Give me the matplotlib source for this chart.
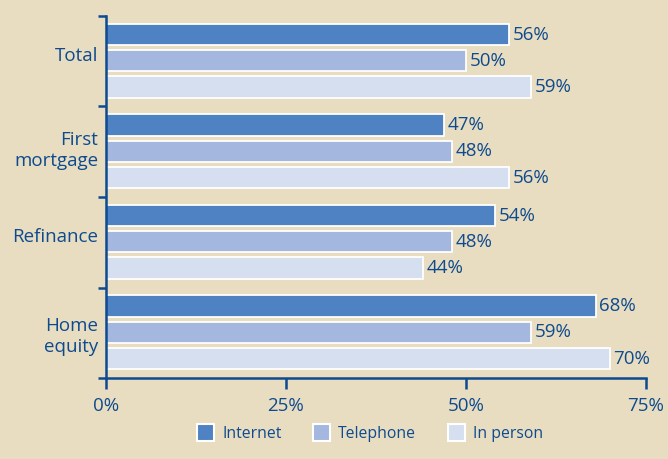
import matplotlib
matplotlib.use("Agg")
import matplotlib.pyplot as plt
from matplotlib.patches import Patch
import matplotlib.transforms as mtransforms
import numpy as np

categories = ["Total", "First\nmortgage", "Refinance", "Home\nequity"]
series_names = ["Internet", "Telephone", "In person"]
internet = [56, 47, 54, 68]
telephone = [50, 48, 48, 59]
in_person = [59, 56, 44, 70]
xticks = [0, 25, 50, 75]
xtick_labels = ["0%", "25%", "50%", "75%"]

bg = "#e8ddc0"
navy = "#0d4a8f"
colors = ["#4f82c3", "#a3b7df", "#d5dff0"]

plt.rcParams['font.family'] = ['Open Sans', 'DejaVu Sans']

fig = plt.figure(figsize=(6.68, 4.59), dpi=100, facecolor=bg)
ax = fig.add_axes([106/668, 1-378/459, 540/668, 362/459])
ax.set_facecolor(bg)

pitch = 0.29
h = 0.235
offsets = [-pitch, 0, pitch]
series = [internet, telephone, in_person]
centers = np.arange(len(categories)) + 0.5
for s, vals in enumerate(series):
    y = centers + offsets[s] - 0.005
    ax.barh(y, vals, height=h, color=colors[s], edgecolor="white",
            linewidth=1.3, label=series_names[s])
    for yy, v in zip(y, vals):
        ax.text(v + 0.5, yy, f"{v}%", va="center", ha="left",
                fontsize=13.5, color=navy)

ax.set_xlim(0, 75)
ax.set_ylim(len(categories), 0)
ax.set_xticks(xticks)
ax.set_xticklabels(xtick_labels, fontsize=13.5, color=navy)
ax.set_yticks(np.arange(len(categories) + 1))
ax.set_yticklabels([])

# category labels, right aligned to the left of the axis
trans = mtransforms.blended_transform_factory(ax.transAxes, ax.transData)
label_shift = [-0.06, -0.015, -0.06, 0.04]
for c, lab, dy in zip(centers, categories, label_shift):
    ax.text(-8/540, c + dy, lab, transform=trans, ha="right", va="center",
            multialignment="right", fontsize=13.5, color=navy, linespacing=1.2)

ax.tick_params(axis="y", which="major", length=6, width=1.8, color=navy, direction="out")
ax.tick_params(axis="x", length=8, width=1.8, color=navy, direction="out", pad=6)
for sp in ["top", "right"]:
    ax.spines[sp].set_visible(False)
for sp in ["left", "bottom"]:
    ax.spines[sp].set_color(navy)
    ax.spines[sp].set_linewidth(1.8)

handles = [Patch(facecolor=c, edgecolor="white", linewidth=1.5) for c in colors]
fig.legend(handles, series_names, loc="center", bbox_to_anchor=(370/668, 1-433/459),
           ncol=3, frameon=False, fontsize=11.3, labelcolor=navy,
           handlelength=1.1, handleheight=1.3, handletextpad=0.5, columnspacing=2.0)

fig.savefig("out.png", dpi=100, facecolor=bg)
